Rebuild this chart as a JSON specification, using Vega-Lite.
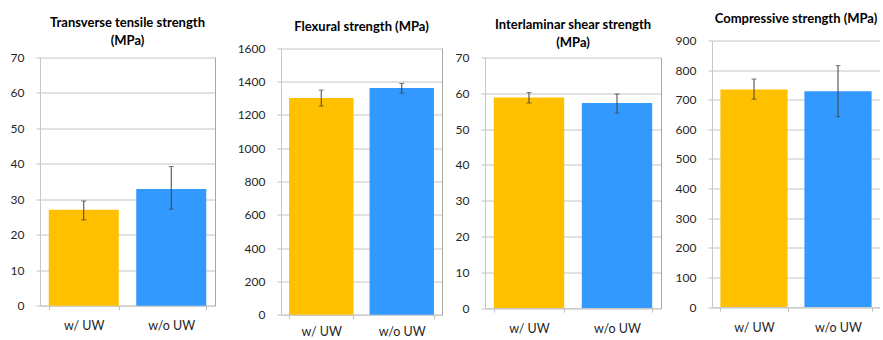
{
  "$schema": "https://vega.github.io/schema/vega-lite/v6.json",
  "background": "white",
  "padding": {"left": 0, "top": 12.5, "right": 0, "bottom": 0},
  "spacing": 0,
  "bounds": "full",
  "align": "none",
  "data": {
    "values": [
      {"panel": "A", "group": "w/ UW", "value": 27.0, "lo": 24.2, "hi": 29.5},
      {"panel": "A", "group": "w/o UW", "value": 32.9, "lo": 27.2, "hi": 39.2},
      {"panel": "B", "group": "w/ UW", "value": 1300, "lo": 1252, "hi": 1348},
      {"panel": "B", "group": "w/o UW", "value": 1360, "lo": 1329, "hi": 1388},
      {"panel": "C", "group": "w/ UW", "value": 58.8, "lo": 57.3, "hi": 60.2},
      {"panel": "C", "group": "w/o UW", "value": 57.3, "lo": 54.5, "hi": 59.8},
      {"panel": "D", "group": "w/ UW", "value": 735, "lo": 702, "hi": 770},
      {"panel": "D", "group": "w/o UW", "value": 729, "lo": 643, "hi": 815}
    ]
  },
  "hconcat": [
    {
      "width": 175, "height": 265.3,
      "title": {"text": ["Transverse tensile strength", "(MPa)"], "offset": -7},
      "transform": [{"filter": "datum.panel == 'A'"}],
      "resolve": {"axis": {"y": "independent"}},
      "layer": [
        {"mark": {"type": "bar"},
         "encoding": {
           "x": {"field": "group", "type": "nominal", "sort": null, "scale": {"paddingInner": 0.2, "paddingOuter": 0.1}, "axis": {"tickBand": "extent"}},
           "y": {"field": "value", "type": "quantitative", "title": null, "scale": {"domain": [0, 70], "nice": false, "range": [265.3, 16.6]}, "axis": {"values": [0,10,20,30,40,50,60,70], "minExtent": 40}},
           "color": {"field": "group", "type": "nominal", "scale": {"domain": ["w/ UW", "w/o UW"], "range": ["#FFC000", "#3399FF"]}, "legend": null}
         }},
        {"mark": {"type": "errorbar", "ticks": {"size": 5}, "color": "#404040", "thickness": 1},
         "encoding": {
           "x": {"field": "group", "type": "nominal", "sort": null},
           "y": {"field": "lo", "type": "quantitative", "title": null, "axis": {"orient": "right", "labels": false, "ticks": false, "grid": false, "domainColor": "#a6a6a6", "minExtent": 0}},
           "y2": {"field": "hi"}
         }}
      ]
    },
    {
      "width": 161, "height": 274.3,
      "title": {"text": "Flexural strength (MPa)", "offset": 6.2},
      "transform": [{"filter": "datum.panel == 'B'"}],
      "resolve": {"axis": {"y": "independent"}},
      "layer": [
        {"mark": {"type": "bar"},
         "encoding": {
           "x": {"field": "group", "type": "nominal", "sort": null, "scale": {"paddingInner": 0.2, "paddingOuter": 0.1}, "axis": {"tickBand": "extent", "labelPadding": 7}},
           "y": {"field": "value", "type": "quantitative", "title": null, "scale": {"domain": [0, 1600], "nice": false, "range": [274.3, 7.6]}, "axis": {"values": [0,200,400,600,800,1000,1200,1400,1600], "minExtent": 66}},
           "color": {"field": "group", "type": "nominal", "scale": {"domain": ["w/ UW", "w/o UW"], "range": ["#FFC000", "#3399FF"]}, "legend": null}
         }},
        {"mark": {"type": "errorbar", "ticks": {"size": 5}, "color": "#404040", "thickness": 1},
         "encoding": {
           "x": {"field": "group", "type": "nominal", "sort": null},
           "y": {"field": "lo", "type": "quantitative", "title": null, "axis": {"orient": "right", "labels": false, "ticks": false, "grid": false, "domainColor": "#a6a6a6", "minExtent": 0}},
           "y2": {"field": "hi"}
         }}
      ]
    },
    {
      "width": 176, "height": 267.6,
      "title": {"text": ["Interlaminar shear strength", "(MPa)"], "offset": -9.3},
      "transform": [{"filter": "datum.panel == 'C'"}],
      "resolve": {"axis": {"y": "independent"}},
      "layer": [
        {"mark": {"type": "bar"},
         "encoding": {
           "x": {"field": "group", "type": "nominal", "sort": null, "scale": {"paddingInner": 0.2, "paddingOuter": 0.1}, "axis": {"tickBand": "extent"}},
           "y": {"field": "value", "type": "quantitative", "title": null, "scale": {"domain": [0, 70], "nice": false, "range": [267.6, 17]}, "axis": {"values": [0,10,20,30,40,50,60,70], "minExtent": 43}},
           "color": {"field": "group", "type": "nominal", "scale": {"domain": ["w/ UW", "w/o UW"], "range": ["#FFC000", "#3399FF"]}, "legend": null}
         }},
        {"mark": {"type": "errorbar", "ticks": {"size": 5}, "color": "#404040", "thickness": 1},
         "encoding": {
           "x": {"field": "group", "type": "nominal", "sort": null},
           "y": {"field": "lo", "type": "quantitative", "title": null, "axis": {"orient": "right", "labels": false, "ticks": false, "grid": false, "domainColor": "#a6a6a6", "minExtent": 0}},
           "y2": {"field": "hi"}
         }}
      ]
    },
    {
      "width": 168, "height": 266.6,
      "title": {"text": "Compressive strength (MPa)", "offset": 8.2},
      "transform": [{"filter": "datum.panel == 'D'"}],
      "resolve": {"axis": {"y": "independent"}},
      "layer": [
        {"mark": {"type": "bar"},
         "encoding": {
           "x": {"field": "group", "type": "nominal", "sort": null, "scale": {"paddingInner": 0.2, "paddingOuter": 0.1}, "axis": {"tickBand": "extent"}},
           "y": {"field": "value", "type": "quantitative", "title": null, "scale": {"domain": [0, 900], "nice": false, "range": [266.6, 0]}, "axis": {"values": [0,100,200,300,400,500,600,700,800,900], "minExtent": 51}},
           "color": {"field": "group", "type": "nominal", "scale": {"domain": ["w/ UW", "w/o UW"], "range": ["#FFC000", "#3399FF"]}, "legend": null}
         }},
        {"mark": {"type": "errorbar", "ticks": {"size": 5}, "color": "#404040", "thickness": 1},
         "encoding": {
           "x": {"field": "group", "type": "nominal", "sort": null},
           "y": {"field": "lo", "type": "quantitative", "title": null, "axis": {"orient": "right", "labels": false, "ticks": false, "grid": false, "domainColor": "#a6a6a6", "minExtent": 0}},
           "y2": {"field": "hi"}
         }}
      ]
    }
  ],
  "config": {
    "font": "Lato",
    "view": {"stroke": null},
    "axis": {"labelFont": "Lato", "labelFontSize": 12, "labelColor": "#262626", "domainColor": "#c8c8c8", "tickColor": "#bfbfbf", "gridColor": "#c4c4c4", "tickSize": 4, "labelOverlap": false},
    "axisY": {"labelPadding": 12, "grid": true, "format": "d"},
    "axisX": {"labelPadding": 10, "grid": false, "labelAngle": 0, "title": null, "labelFontSize": 12.5},
    "title": {"font": "Lato", "fontSize": 13, "fontWeight": "bold", "color": "#000000", "lineHeight": 18, "anchor": "middle"}
  }
}
